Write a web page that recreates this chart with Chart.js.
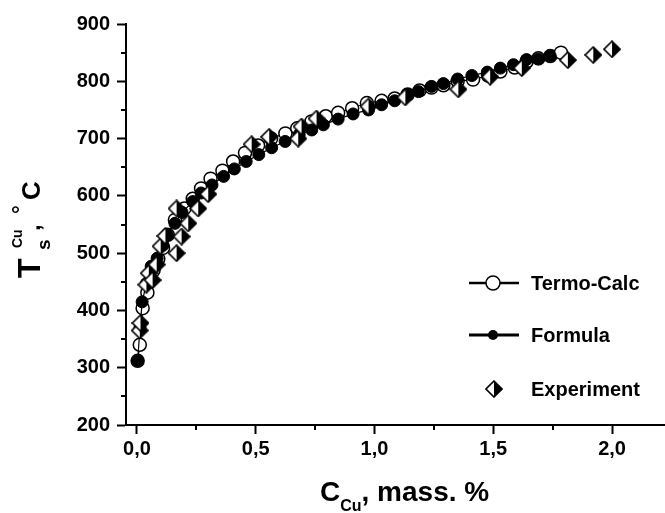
<!DOCTYPE html>
<html>
<head>
<meta charset="utf-8">
<title>Ts Cu</title>
<script src="https://cdn.jsdelivr.net/npm/chart.js@4.4.1/dist/chart.umd.min.js"></script>
<style>
  body { margin: 0; background: #fff; }
  canvas { display: block; }
</style>
</head>
<body>
<canvas id="myChart" width="665" height="513"></canvas>
<script>
// Termo-Calc (open circles)
var tcX = [0.003, 0.012, 0.024, 0.044, 0.07, 0.09, 0.11, 0.13, 0.16, 0.2, 0.235, 0.27, 0.31, 0.36, 0.405, 0.455, 0.51, 0.565, 0.625, 0.675, 0.735, 0.795, 0.847, 0.906, 0.968, 1.03, 1.085, 1.14, 1.19, 1.24, 1.29, 1.35, 1.415, 1.478, 1.53, 1.59, 1.64, 1.69, 1.74, 1.785];
var tcY = [312, 340, 404, 431, 470, 490, 509, 532, 558, 578, 595, 613, 630, 644, 660, 675, 688, 700, 709, 718, 730, 739, 745, 753, 762, 766, 770, 777, 784, 789, 793, 800, 803, 810, 817, 824, 834, 840, 844, 850];

// Formula (filled circles)
var fX = [0.003, 0.013, 0.022, 0.04, 0.06, 0.085, 0.11, 0.128, 0.16, 0.19, 0.235, 0.27, 0.316, 0.365, 0.41, 0.46, 0.513, 0.567, 0.624, 0.683, 0.736, 0.785, 0.847, 0.91, 0.975, 1.03, 1.085, 1.14, 1.185, 1.24, 1.29, 1.35, 1.41, 1.475, 1.53, 1.585, 1.64, 1.69, 1.74];
var fY = [312, 370, 415, 447, 477, 491, 514, 532, 552, 571, 590, 605, 619, 634, 647, 660, 672, 684, 695, 707, 715, 724, 734, 743, 750, 759, 766, 777, 782, 791, 796, 804, 810, 816, 823, 829, 838, 839, 844];

// Experiment (half-filled diamonds)
var eX = [0.012, 0.015, 0.04, 0.05, 0.066, 0.083, 0.1, 0.12, 0.167, 0.167, 0.188, 0.216, 0.258, 0.3, 0.483, 0.557, 0.679, 0.693, 0.756, 0.975, 1.13, 1.353, 1.487, 1.62, 1.814, 1.921, 2.0];
var eY = [365, 378, 445, 465, 453, 480, 512, 530, 578, 500, 529, 552, 578, 603, 690, 703, 700, 721, 735, 756, 772, 786, 808, 823, 837, 846, 856];

var xTicks = [0, 0.5, 1.0, 1.5, 2.0];
var xMinor = [0.25, 0.75, 1.25, 1.75];
var yMinor = [250, 350, 450, 550, 650, 750, 850];

var FONT = "'Liberation Sans', Arial, sans-serif";

function pts(xs, ys) {
  return xs.map(function (x, i) { return { x: x, y: ys[i] }; });
}

// diamond: left half white, right half black
function makeDiamond(h) {
  var c = document.createElement('canvas');
  c.width = 2 * h + 2; c.height = 2 * h + 2;
  var g = c.getContext('2d');
  var m = h + 1;
  g.fillStyle = '#fff';
  g.beginPath(); g.moveTo(m, m - h); g.lineTo(m - h, m); g.lineTo(m, m + h); g.closePath(); g.fill();
  g.fillStyle = '#000';
  g.beginPath(); g.moveTo(m, m - h); g.lineTo(m + h, m); g.lineTo(m, m + h); g.closePath(); g.fill();
  g.strokeStyle = '#000'; g.lineWidth = 1.6;
  g.beginPath(); g.moveTo(m, m - h); g.lineTo(m + h, m); g.lineTo(m, m + h); g.lineTo(m - h, m); g.closePath(); g.stroke();
  return c;
}
var diamond = makeDiamond(8);

var decor = {
  id: 'decor',
  afterDraw: function (chart) {
    var ctx = chart.ctx, xs = chart.scales.x, ys = chart.scales.y, a = chart.chartArea;
    ctx.save();
    ctx.strokeStyle = '#000';
    ctx.lineWidth = 2;
    // minor ticks
    yMinor.forEach(function (v) {
      var p = Math.round(ys.getPixelForValue(v));
      ctx.beginPath(); ctx.moveTo(a.left - 5, p); ctx.lineTo(a.left, p); ctx.stroke();
    });
    xMinor.forEach(function (v) {
      var p = Math.round(xs.getPixelForValue(v));
      ctx.beginPath(); ctx.moveTo(p, a.bottom); ctx.lineTo(p, a.bottom + 5); ctx.stroke();
    });

    ctx.fillStyle = '#000';
    ctx.textBaseline = 'alphabetic';
    ctx.textAlign = 'left';

    // x title
    var x0 = 320, by = 501;
    ctx.font = 'bold 28px ' + FONT;
    ctx.fillText('C', x0, by);
    x0 += ctx.measureText('C').width;
    ctx.font = 'bold 16px ' + FONT;
    ctx.fillText('Cu', x0, by + 10);
    x0 += ctx.measureText('Cu').width;
    ctx.font = 'bold 28px ' + FONT;
    ctx.fillText(', mass. %', x0, by);

    // y title (rotated)
    ctx.save();
    ctx.translate(40, 278);
    ctx.rotate(-Math.PI / 2);
    ctx.font = 'bold 32px ' + FONT;
    ctx.fillText('T', 0, 0);
    ctx.font = 'bold 14px ' + FONT;
    ctx.fillText('Cu', 30, -18);
    ctx.font = 'bold 19px ' + FONT;
    ctx.fillText('s', 28, 10);
    ctx.font = 'bold 24px ' + FONT;
    ctx.fillText(',', 47, 0);
    ctx.font = 'bold 22px ' + FONT;
    ctx.fillText('\u00b0', 64, -12);
    ctx.font = 'bold 26px ' + FONT;
    ctx.fillText('C', 78, 0);
    ctx.restore();

    // legend
    var ds = chart.data.datasets;
    var rows = [283, 335, 389];
    ctx.font = 'bold 20px ' + FONT;
    ctx.textBaseline = 'middle';
    ds.forEach(function (d, i) {
      var y = rows[i];
      if (d.label === 'Termo-Calc') {
        ctx.lineWidth = 2.5;
        ctx.beginPath(); ctx.moveTo(469, y); ctx.lineTo(519, y); ctx.stroke();
        ctx.fillStyle = '#fff'; ctx.lineWidth = 1.5;
        ctx.beginPath(); ctx.arc(493, y, 7, 0, 2 * Math.PI); ctx.fill(); ctx.stroke();
      } else if (d.label === 'Formula') {
        ctx.lineWidth = 3;
        ctx.beginPath(); ctx.moveTo(469, y); ctx.lineTo(519, y); ctx.stroke();
        ctx.fillStyle = '#000';
        ctx.beginPath(); ctx.arc(493, y, 5, 0, 2 * Math.PI); ctx.fill();
      } else {
        ctx.drawImage(diamond, 494 - diamond.width / 2, y - diamond.height / 2);
      }
      ctx.fillStyle = '#000';
      ctx.fillText(d.label, 531, y + 1);
    });
    ctx.restore();
  }
};

var ctx = document.getElementById('myChart').getContext('2d');
var chart = new Chart(ctx, {
  type: 'scatter',
  data: {
    datasets: [{
      label: 'Termo-Calc',
      data: pts(tcX, tcY),
      showLine: true,
      borderColor: '#000',
      borderWidth: 1.2,
      pointRadius: 6.5,
      pointBorderWidth: 1.5,
      pointBackgroundColor: '#fff',
      pointBorderColor: '#000',
      order: 3
    }, {
      label: 'Formula',
      data: pts(fX, fY),
      showLine: true,
      borderColor: '#000',
      borderWidth: 1.2,
      pointRadius: 6,
      pointBorderWidth: 1,
      pointBackgroundColor: '#000',
      pointBorderColor: '#000',
      order: 2
    }, {
      label: 'Experiment',
      data: pts(eX, eY),
      showLine: false,
      pointStyle: diamond,
      order: 1
    }]
  },
  options: {
    responsive: false,
    animation: false,
    devicePixelRatio: 1,
    layout: { autoPadding: false, padding: { top: 24, right: 0, left: 0, bottom: 0 } },
    plugins: { legend: { display: false }, tooltip: { enabled: false } },
    scales: {
      x: {
        type: 'linear',
        min: -0.046,
        max: 2.223,
        afterBuildTicks: function (s) { s.ticks = xTicks.map(function (v) { return { value: v }; }); },
        afterFit: function (s) { s.height = 88; s.paddingRight = 0; s.paddingLeft = 0; },
        grid: { drawOnChartArea: false, drawTicks: true, tickLength: 9, tickColor: '#000', tickWidth: 2 },
        border: { display: true, color: '#000', width: 2 },
        ticks: {
          color: '#000',
          padding: 3,
          maxRotation: 0,
          font: { family: FONT, size: 20, weight: 'bold' },
          callback: function (v) { return v.toFixed(1).replace('.', ','); }
        }
      },
      y: {
        min: 200,
        max: 900,
        afterFit: function (s) { s.width = 126; },
        grid: { drawOnChartArea: false, drawTicks: true, tickLength: 9, tickColor: '#000', tickWidth: 2 },
        border: { display: true, color: '#000', width: 2 },
        ticks: {
          stepSize: 100,
          color: '#000',
          padding: 7,
          font: { family: FONT, size: 20, weight: 'bold' }
        }
      }
    }
  },
  plugins: [decor]
});
</script>
</body>
</html>
